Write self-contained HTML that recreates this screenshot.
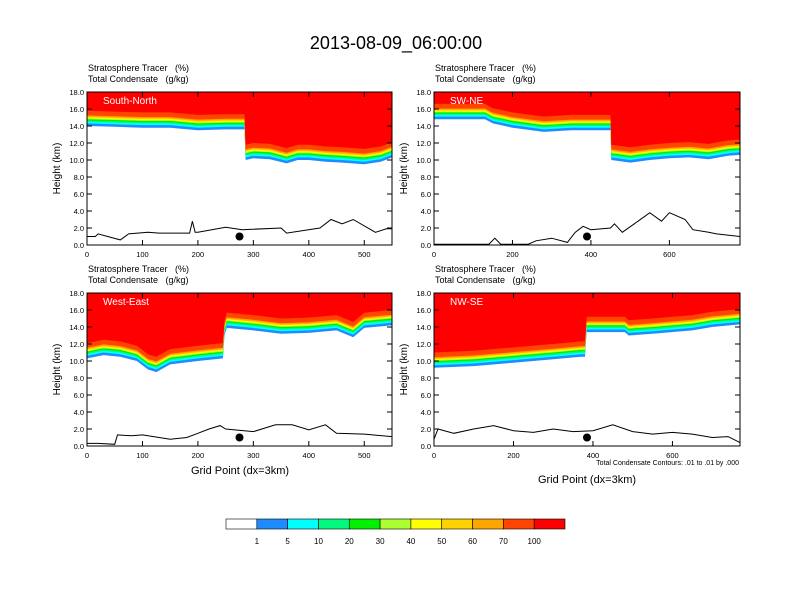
<!DOCTYPE html>
<html><head><meta charset="utf-8"><style>
body{margin:0;background:#fff;}
svg{display:block;font-family:"Liberation Sans",sans-serif;}
</style></head><body>
<svg id="chart" width="792" height="612" viewBox="0 0 792 612">
<text x="396" y="49" font-size="18" text-anchor="middle">2013-08-09_06:00:00</text>
</svg>
<script>
// ---- data ----
const panelNames = ["South-North","SW-NE","West-East","NW-SE"];
const panelXMax = [550,780,550,770];
const xTicksLeft = [0,100,200,300,400,500];
const xTicksRight = [0,200,400,600];
const yTicks = [0,2,4,6,8,10,12,14,16,18];
// band base (km) : grid x positions and heights
const baseX1 = [0,50,100,150,200,250,280,284,286,300,330,360,380,400,430,460,500,530,550];
const baseH1 = [14.0,13.9,13.8,13.8,13.5,13.6,13.6,13.6,10.0,10.2,10.1,9.6,10.0,10.0,9.8,9.7,9.5,9.8,10.3];
const baseX2 = [0,130,150,200,280,350,450,452,500,550,600,650,700,750,780];
const baseH2 = [14.8,14.8,14.3,13.8,13.3,13.5,13.5,10.0,9.7,10.0,10.2,10.3,10.1,10.5,10.6];
const baseX3 = [0,30,60,90,110,125,150,200,245,248,252,300,350,400,450,480,500,550];
const baseH3 = [10.3,10.7,10.5,10.0,9.0,8.7,9.6,10.0,10.3,13.0,13.9,13.6,13.2,13.3,13.6,12.8,13.9,14.2];
const baseX4 = [0,100,200,300,370,380,384,480,490,550,650,700,770];
const baseH4 = [9.2,9.4,9.8,10.2,10.5,10.5,13.4,13.4,13.0,13.2,13.6,14.0,14.3];
// terrain height (km)
const terX1 = [0,15,20,60,75,110,130,185,190,195,200,250,280,350,360,420,440,460,480,520,540,550];
const terH1 = [1.0,1.0,1.3,0.6,1.3,1.5,1.4,1.4,2.8,1.5,1.5,2.1,1.8,2.0,1.4,2.0,3.0,2.5,3.0,1.5,1.9,1.9];
const terX2 = [0,140,155,170,240,260,300,340,360,380,400,450,460,480,520,550,580,600,640,660,700,720,780];
const terH2 = [0.1,0.1,0.8,0.1,0.1,0.5,0.8,0.3,1.5,2.2,1.8,2.0,2.5,1.5,2.8,3.8,2.8,3.8,3.0,1.8,1.5,1.3,1.0];
const terX3 = [0,20,50,55,80,100,150,180,200,220,240,250,300,340,370,400,430,450,500,550];
const terH3 = [0.3,0.3,0.2,1.3,1.2,1.3,0.8,1.0,1.5,2.0,2.4,2.0,1.7,2.5,2.5,1.9,2.5,1.5,1.4,1.1];
const terX4 = [0,10,50,100,150,200,250,300,350,400,450,500,550,600,650,700,740,770];
const terH4 = [0.8,2.0,1.5,2.0,2.4,1.8,1.6,2.0,1.7,1.8,2.5,1.7,1.4,1.6,1.4,1.0,1.1,0.4];
const dotX = [275,390,275,385];
const dotH = [1.0,1.0,1.0,1.0];
// colorbar
const cbLabels = ["1","5","10","20","30","40","50","60","70","100"];
const cbColors = ["#ffffff","#1e8cff","#00ffff","#00fa80","#00f000","#acff2f","#ffff00","#ffd200","#ffa500","#ff4500","#ff0000"];
const bandOffsets = [0,0.3,0.5,0.65,0.8,0.9,1.0,1.1,1.25,1.8];

const panels = [
 {x0:87,y0:92,w:305,h:153,bx:baseX1,bh:baseH1,tx:terX1,th:terH1,ticks:xTicksLeft},
 {x0:434,y0:92,w:306,h:153,bx:baseX2,bh:baseH2,tx:terX2,th:terH2,ticks:xTicksRight},
 {x0:87,y0:293,w:305,h:153,bx:baseX3,bh:baseH3,tx:terX3,th:terH3,ticks:xTicksLeft},
 {x0:434,y0:293,w:306,h:153,bx:baseX4,bh:baseH4,tx:terX4,th:terH4,ticks:xTicksRight}
];
const svg = document.getElementById('chart');
const NS = "http://www.w3.org/2000/svg";
function mk(tag, attrs, parent){const e=document.createElementNS(NS,tag);for(const k in attrs)e.setAttribute(k,attrs[k]);(parent||svg).appendChild(e);return e;}

panels.forEach((p,i)=>{
  const xmax = panelXMax[i];
  const sx = v => p.x0 + v/xmax*p.w;
  const sy = v => p.y0 + p.h - v/18*p.h;
  const g = mk('g',{});
  
  
  const clipId='clip'+i;
  const cp=mk('clipPath',{id:clipId},g);
  mk('rect',{x:p.x0,y:p.y0,width:p.w,height:p.h},cp);
  const plot=mk('g',{'clip-path':'url(#'+clipId+')'},g);
  bandOffsets.forEach((off,k)=>{
    let pts=[];
    p.bx.forEach((xv,j)=>pts.push(sx(xv).toFixed(1)+','+sy(Math.min(18,p.bh[j]+off)).toFixed(1)));
    pts.push(sx(xmax)+','+sy(18)); pts.push(sx(0)+','+sy(18));
    const poly=mk('polygon',{points:pts.join(' '),fill:cbColors[k+1]},plot);
    
    
  });
  const tp=p.tx.map((xv,j)=>sx(xv).toFixed(1)+','+sy(p.th[j]).toFixed(1)).join(' ');
  const tl=mk('polyline',{points:tp,fill:'none',stroke:'#000','stroke-width':1},plot);
  
  
  const dot=mk('circle',{cx:sx(dotX[i]),cy:sy(dotH[i]),r:4,fill:'#000'},g);
  
  
  const fr=mk('rect',{x:p.x0,y:p.y0,width:p.w,height:p.h,fill:'none',stroke:'#000','stroke-width':1},g);
  
  
  const lb=mk('text',{x:p.x0+16,y:p.y0+12,'font-size':10,fill:'#fff'},g);
  lb.textContent=panelNames[i];
  
  
  yTicks.forEach(t=>{
    mk('line',{x1:p.x0,x2:p.x0+5,y1:sy(t),y2:sy(t),stroke:'#000'},g);
    mk('line',{x1:p.x0+p.w,x2:p.x0+p.w-5,y1:sy(t),y2:sy(t),stroke:'#000'},g);
    const tt=mk('text',{x:p.x0-3,y:sy(t)+3,'font-size':7.5,'text-anchor':'end'},g);
    tt.textContent=t.toFixed(1);
    
    
  });
  p.ticks.forEach(t=>{
    mk('line',{x1:sx(t),x2:sx(t),y1:p.y0+p.h,y2:p.y0+p.h-5,stroke:'#000'},g);
    mk('line',{x1:sx(t),x2:sx(t),y1:p.y0,y2:p.y0+5,stroke:'#000'},g);
    const tt=mk('text',{x:sx(t),y:p.y0+p.h+12,'font-size':7.5,'text-anchor':'middle'},g);
    tt.textContent=String(t);
    
    
  });
  const t1=mk('text',{x:p.x0+1,y:p.y0-21,'font-size':9},g);
  t1.textContent='Stratosphere Tracer\u00a0\u00a0\u00a0(%)';
  
  
  const t2=mk('text',{x:p.x0+1,y:p.y0-10,'font-size':9},g);
  t2.textContent='Total Condensate\u00a0\u00a0\u00a0(g/kg)';
  
  
  const ya=mk('text',{x:0,y:0,'font-size':10,'text-anchor':'middle',transform:'translate('+(p.x0-27)+','+(p.y0+p.h/2)+') rotate(-90)'},g);
  ya.textContent='Height (km)';
  
  
});
let xa=mk('text',{x:240,y:474,'font-size':11,'text-anchor':'middle'});
xa.textContent='Grid Point (dx=3km)';


xa=mk('text',{x:587,y:483,'font-size':11,'text-anchor':'middle'});
xa.textContent='Grid Point (dx=3km)';


const cn=mk('text',{x:739,y:465,'font-size':7,'text-anchor':'end'});
cn.textContent='Total Condensate Contours: .01 to .01 by .000';


const cb=mk('g',{});


const cbx=226, cbw=339, cby=519, cbh=10, n=cbColors.length;
cbColors.forEach((c,k)=>{
  const r=mk('rect',{x:cbx+k*cbw/n,y:cby,width:cbw/n,height:cbh,fill:c,stroke:'#000','stroke-width':0.6},cb);
  
  
});
cbLabels.forEach((l,k)=>{
  const t=mk('text',{x:cbx+(k+1)*cbw/n,y:cby+25,'font-size':8,'text-anchor':'middle'},cb);
  t.textContent=l;
  
  
});
</script>
</body></html>
